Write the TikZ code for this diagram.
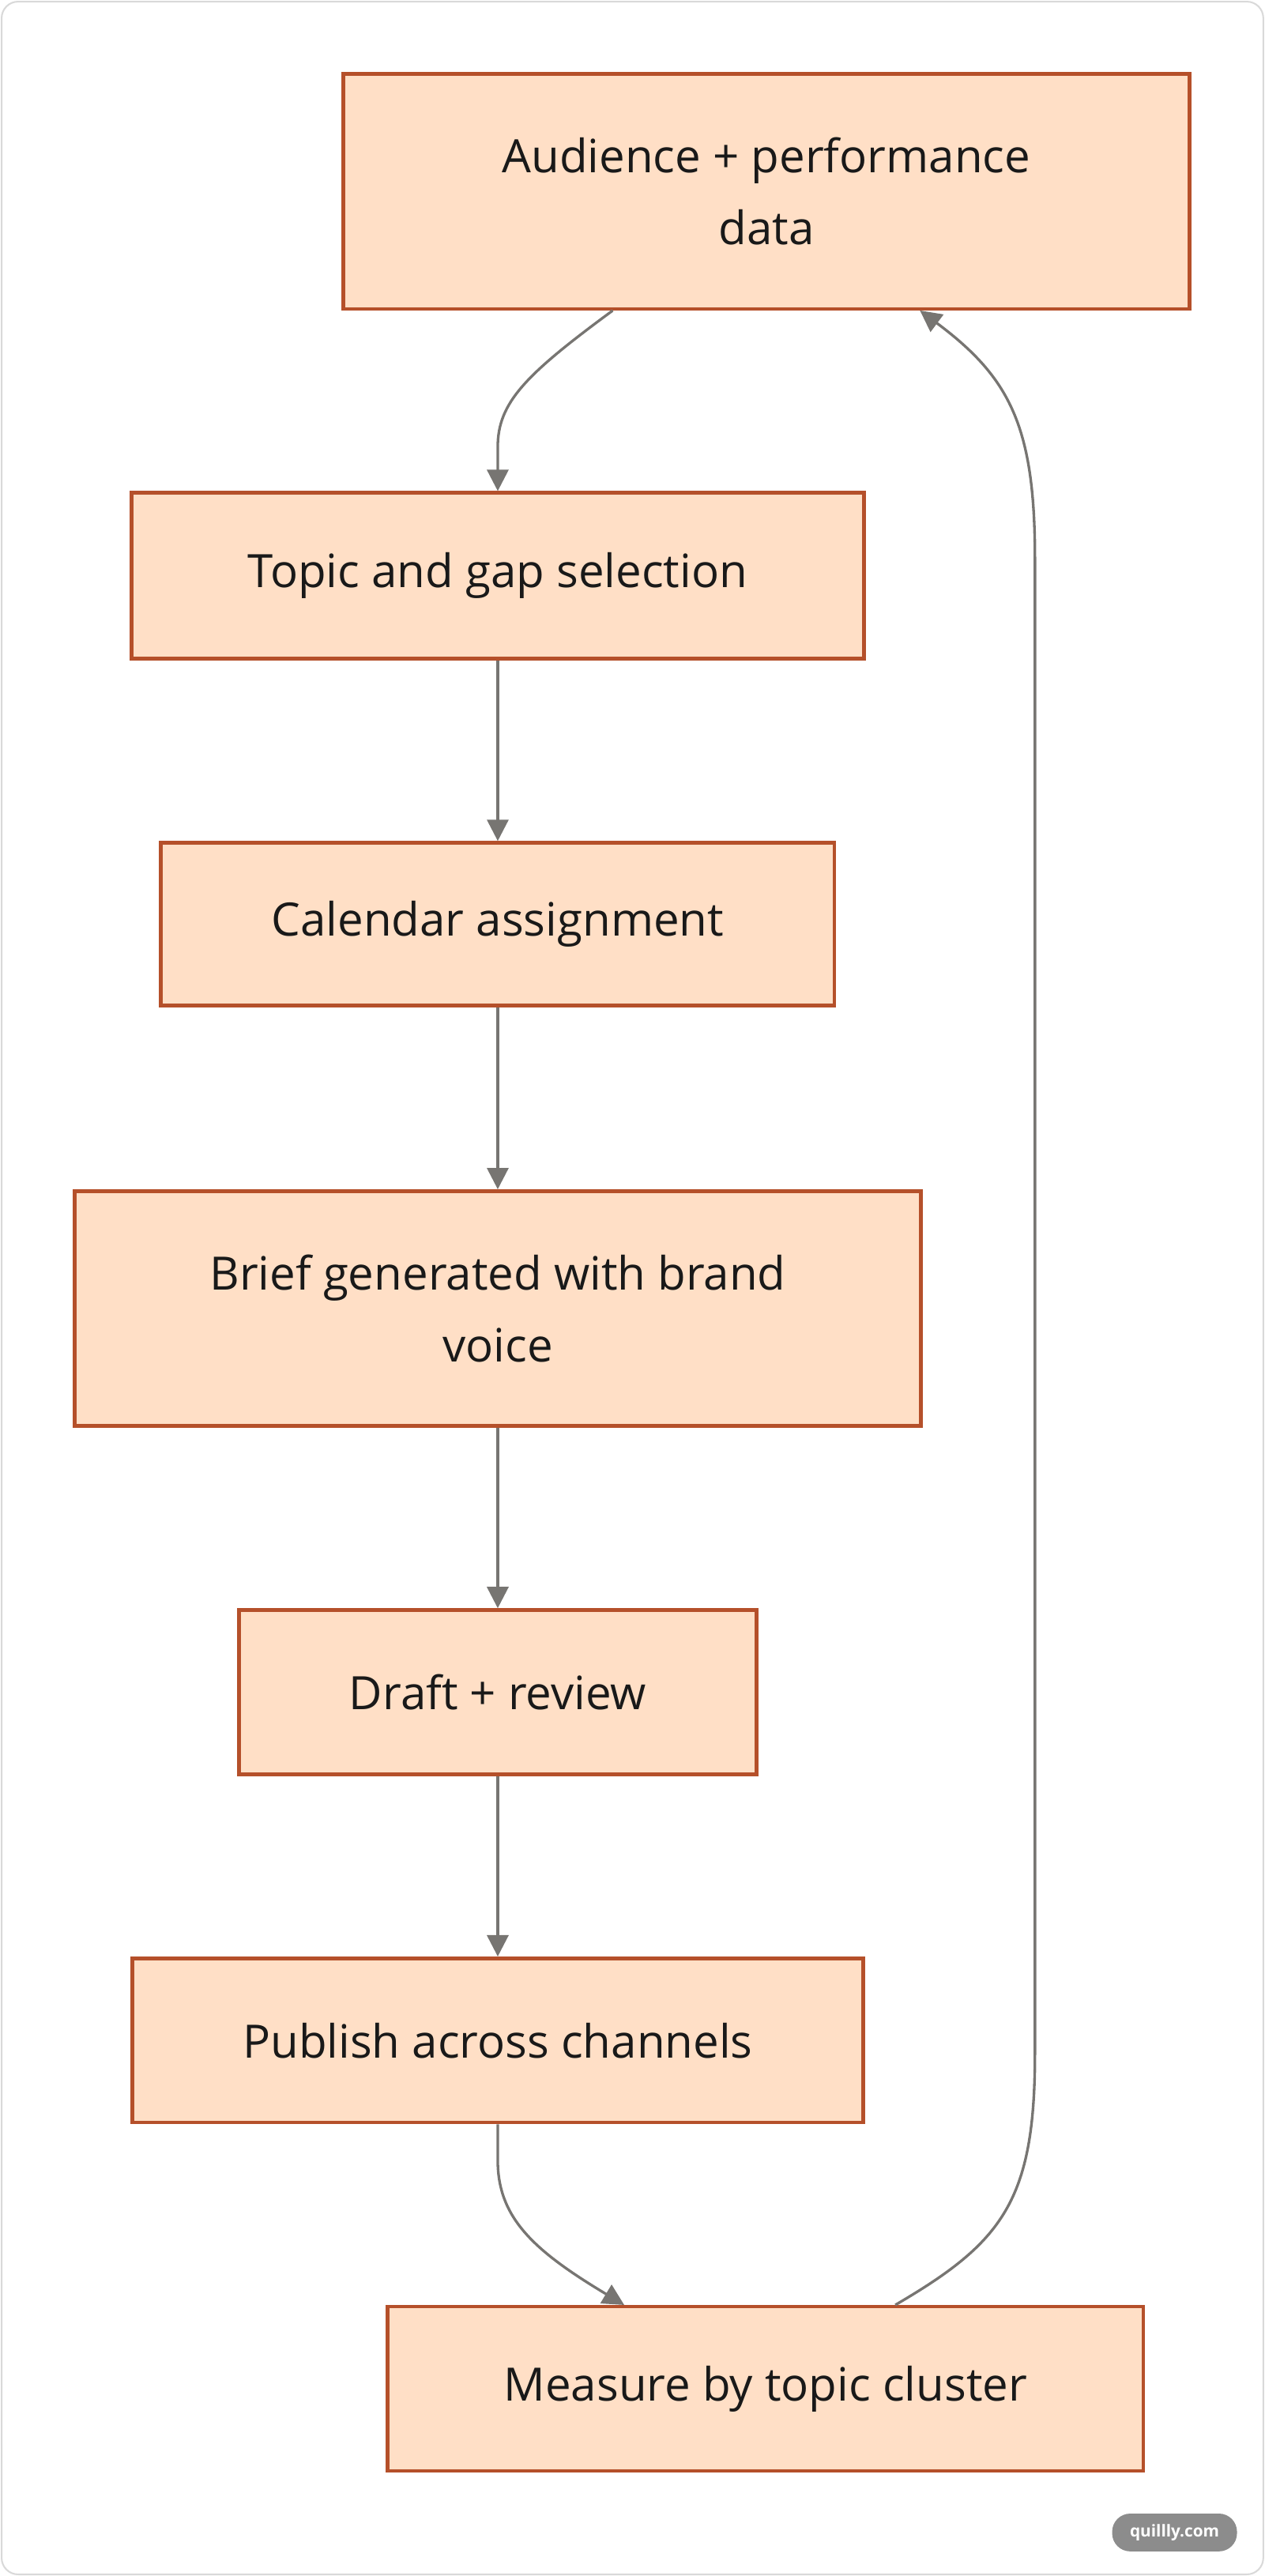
\documentclass[tikz,border=0pt]{standalone}
\usepackage{fontspec}
\setmainfont{Open Sans}
\usetikzlibrary{arrows.meta}
\definecolor{boxfill}{HTML}{FFDFC6}
\definecolor{boxdraw}{HTML}{B5502A}
\definecolor{edge}{HTML}{777572}
\begin{document}
\begin{tikzpicture}[x=1pt,y=-1pt,
  box/.style={draw=boxdraw,fill=boxfill,line width=2.2pt,inner sep=0pt,align=center,font=\fontsize{28}{44}\selectfont,text=black!90},
  arr/.style={draw=edge,line width=1.6pt,-{Triangle[length=13pt,width=13pt]}}]
\useasboundingbox (0,0) rectangle (770,1568);
\draw[black!15,line width=1pt,rounded corners=10pt] (1,1) rectangle (769,1567);
\node[box,minimum width=515pt,minimum height=143pt] (a) at (466.5,116.5) {Audience + performance\\data};
\node[box,minimum width=446pt,minimum height=101pt] (b) at (303,350.5) {Topic and gap selection};
\node[box,minimum width=410pt,minimum height=99pt] (c) at (303,562.5) {Calendar assignment};
\node[box,minimum width=515pt,minimum height=143pt] (d) at (303,796.5) {Brief generated with brand\\voice};
\node[box,minimum width=315pt,minimum height=100pt] (e) at (303,1030) {Draft + review};
\node[box,minimum width=445pt,minimum height=100pt] (f) at (303,1242) {Publish across channels};
\node[box,minimum width=460pt,minimum height=100pt] (g) at (466,1454) {Measure by topic cluster};
\coordinate (a1) at (373,189);
\coordinate (a2) at (560,189);
\coordinate (g1) at (380,1403);
\coordinate (g2) at (545,1403);
\draw[arr] (a1) .. controls (320,228) and (303,245) .. (303,272) -- (b.north);
\draw[arr] (b) -- (c);
\draw[arr] (c) -- (d);
\draw[arr] (d) -- (e);
\draw[arr] (e) -- (f);
\draw[arr] (f.south) -- (303,1315) .. controls (303,1350) and (325,1370) .. (g1);
\draw[arr] (g2) .. controls (610,1365) and (630,1340) .. (630,1250) -- (630,340) .. controls (630,260) and (615,230) .. (a2);
\node[fill=black!45,rounded corners=11pt,minimum width=76pt,minimum height=23pt,inner sep=0pt,text=white,font=\fontsize{10}{12}\selectfont\bfseries] (w) at (715,1541.5) {quillly.com};
\end{tikzpicture}
\end{document}
